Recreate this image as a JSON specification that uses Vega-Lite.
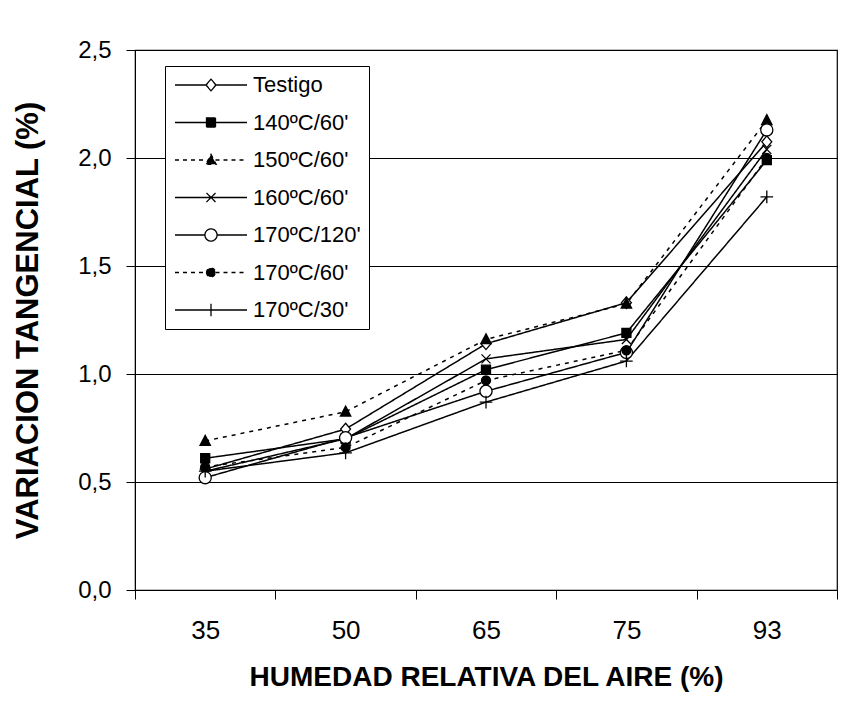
{
  "$schema": "https://vega.github.io/schema/vega-lite/v6.json",
  "width": 702,
  "height": 540,
  "autosize": {"type": "none"},
  "padding": {"left": 135, "top": 50, "right": 7, "bottom": 118},
  "background": "white",
  "config": {
    "font": "Liberation Sans",
    "view": {"stroke": "black", "strokeWidth": 1.2},
    "axis": {"labelColor": "black", "titleColor": "black", "domainColor": "black", "tickColor": "black"},
    "legend": {
      "orient": "none", "legendX": 30, "legendY": 16, "title": null,
      "strokeColor": "black", "fillColor": "white", "padding": 8,
      "symbolSize": 81, "symbolOffset": 27, "labelOffset": 31,
      "labelFontSize": 22, "labelColor": "black", "rowPadding": 15.5,
      "symbolStrokeWidth": 1.3, "symbolStrokeColor": "black", "symbolOpacity": 1
    }
  },
  "data": {
    "values": [
      {"h": "35", "s": "Testigo", "v": 0.56},
      {"h": "50", "s": "Testigo", "v": 0.745},
      {"h": "65", "s": "Testigo", "v": 1.14},
      {"h": "75", "s": "Testigo", "v": 1.33},
      {"h": "93", "s": "Testigo", "v": 2.075},
      {"h": "35", "s": "140ºC/60'", "v": 0.61},
      {"h": "50", "s": "140ºC/60'", "v": 0.70},
      {"h": "65", "s": "140ºC/60'", "v": 1.02},
      {"h": "75", "s": "140ºC/60'", "v": 1.19},
      {"h": "93", "s": "140ºC/60'", "v": 1.99},
      {"h": "35", "s": "150ºC/60'", "v": 0.69},
      {"h": "50", "s": "150ºC/60'", "v": 0.825},
      {"h": "65", "s": "150ºC/60'", "v": 1.16},
      {"h": "75", "s": "150ºC/60'", "v": 1.325},
      {"h": "93", "s": "150ºC/60'", "v": 2.175},
      {"h": "35", "s": "160ºC/60'", "v": 0.55},
      {"h": "50", "s": "160ºC/60'", "v": 0.70},
      {"h": "65", "s": "160ºC/60'", "v": 1.07},
      {"h": "75", "s": "160ºC/60'", "v": 1.16},
      {"h": "93", "s": "160ºC/60'", "v": 2.04},
      {"h": "35", "s": "170ºC/120'", "v": 0.52},
      {"h": "50", "s": "170ºC/120'", "v": 0.705},
      {"h": "65", "s": "170ºC/120'", "v": 0.92},
      {"h": "75", "s": "170ºC/120'", "v": 1.10},
      {"h": "93", "s": "170ºC/120'", "v": 2.13},
      {"h": "35", "s": "170ºC/60'", "v": 0.57},
      {"h": "50", "s": "170ºC/60'", "v": 0.66},
      {"h": "65", "s": "170ºC/60'", "v": 0.97},
      {"h": "75", "s": "170ºC/60'", "v": 1.11},
      {"h": "93", "s": "170ºC/60'", "v": 2.00},
      {"h": "35", "s": "170ºC/30'", "v": 0.55},
      {"h": "50", "s": "170ºC/30'", "v": 0.635},
      {"h": "65", "s": "170ºC/30'", "v": 0.87},
      {"h": "75", "s": "170ºC/30'", "v": 1.06},
      {"h": "93", "s": "170ºC/30'", "v": 1.82}
    ]
  },
  "encoding": {
    "x": {
      "field": "h", "type": "ordinal", "sort": ["35", "50", "65", "75", "93"],
      "scale": {"type": "band", "paddingInner": 0, "paddingOuter": 0},
      "axis": {
        "title": "HUMEDAD RELATIVA DEL AIRE (%)", "tickBand": "extent", "labelAngle": 0,
        "tickSize": 9, "labelPadding": 18, "labelFontSize": 26, "titleFontSize": 28,
        "titleFontWeight": "bold", "titlePadding": 20, "grid": false
      }
    },
    "y": {
      "field": "v", "type": "quantitative",
      "scale": {"domain": [0, 2.5], "nice": false, "zero": true},
      "axis": {
        "title": "VARIACION TANGENCIAL (%)", "values": [0, 0.5, 1, 1.5, 2, 2.5],
        "labelExpr": "replace(format(datum.value, '.1f'), '.', ',')",
        "tickSize": 9, "labelPadding": 15, "labelFontSize": 24, "titleFontSize": 31,
        "titleFontWeight": "bold", "titlePadding": 33, "grid": true, "gridColor": "black", "gridWidth": 1
      }
    }
  },
  "layer": [
    {
      "mark": {"type": "line", "color": "black", "strokeWidth": 1.5},
      "encoding": {
        "detail": {"field": "s"},
        "strokeDash": {
          "field": "s", "type": "nominal",
          "scale": {
            "domain": ["Testigo", "140ºC/60'", "150ºC/60'", "160ºC/60'", "170ºC/120'", "170ºC/60'", "170ºC/30'"],
            "range": [[1, 0], [1, 0], [4, 5], [1, 0], [1, 0], [4, 5], [1, 0]]
          },
          "legend": null
        }
      }
    },
    {
      "mark": {"type": "point", "size": 81, "stroke": "black", "strokeWidth": 1.3, "opacity": 1, "fillOpacity": 1, "strokeOpacity": 1},
      "encoding": {
        "fill": {
          "field": "s", "type": "nominal",
          "scale": {
            "domain": ["Testigo", "140ºC/60'", "150ºC/60'", "160ºC/60'", "170ºC/120'", "170ºC/60'", "170ºC/30'"],
            "range": ["white", "black", "black", "black", "white", "black", "black"]
          },
          "legend": null
        },
        "shape": {
          "field": "s", "type": "nominal",
          "scale": {
            "domain": ["Testigo", "140ºC/60'", "150ºC/60'", "160ºC/60'", "170ºC/120'", "170ºC/60'", "170ºC/30'"],
            "range": [
              "M0,-1.3L1.1,0L0,1.3L-1.1,0Z",
              "M-1,-1H1V1H-1Z",
              "M0,-1.25L1.15,0.95H-1.15Z",
              "M-1,-1L1,1M-1,1L1,-1",
              "M-1.35,0A1.35,1.35,0,1,0,1.35,0A1.35,1.35,0,1,0,-1.35,0Z",
              "M-1,0A1,1,0,1,0,1,0A1,1,0,1,0,-1,0Z",
              "M-1.4,0H1.4M0,-1.4V1.4"
            ]
          },
          "legend": null
        }
      }
    },
    {
      "transform": [{"filter": "false"}],
      "mark": {"type": "point", "size": 81, "stroke": "black", "strokeWidth": 1.3, "opacity": 1, "fillOpacity": 1, "strokeOpacity": 1},
      "encoding": {
        "fill": {
          "field": "s", "type": "nominal",
          "scale": {
            "domain": ["Testigo", "140ºC/60'", "150ºC/60'", "160ºC/60'", "170ºC/120'", "170ºC/60'", "170ºC/30'"],
            "range": ["white", "black", "black", "black", "white", "black", "black"]
          }
        },
        "stroke": {
          "field": "s", "type": "nominal",
          "scale": {
            "domain": ["Testigo", "140ºC/60'", "150ºC/60'", "160ºC/60'", "170ºC/120'", "170ºC/60'", "170ºC/30'"],
            "range": ["black", "black", "black", "black", "black", "black", "black"]
          }
        },
        "strokeDash": {
          "field": "s", "type": "nominal",
          "scale": {
            "domain": ["Testigo", "140ºC/60'", "150ºC/60'", "160ºC/60'", "170ºC/120'", "170ºC/60'", "170ºC/30'"],
            "range": [[1, 0], [1, 0], [4, 4], [1, 0], [1, 0], [4, 4], [1, 0]]
          }
        },
        "shape": {
          "field": "s", "type": "nominal",
          "scale": {
            "domain": ["Testigo", "140ºC/60'", "150ºC/60'", "160ºC/60'", "170ºC/120'", "170ºC/60'", "170ºC/30'"],
            "range": [
              "M-8,0H-1.1M1.1,0H8M0,-1.3L1.1,0L0,1.3L-1.1,0Z",
              "M-8,0H-1M1,0H8M-1,-1H1V1H-1Z",
              "M-8,0H-1M1,0H8M0,-1.25L1.15,0.95H-1.15Z",
              "M-8,0H8M-1,-1L1,1M-1,1L1,-1",
              "M-8,0H-1.35M1.35,0H8M-1.35,0A1.35,1.35,0,1,0,1.35,0A1.35,1.35,0,1,0,-1.35,0Z",
              "M-8,0H-1M1,0H8M-1,0A1,1,0,1,0,1,0A1,1,0,1,0,-1,0Z",
              "M-8,0H8M0,-1.4V1.4"
            ]
          }
        }
      }
    }
  ],
  "resolve": {"scale": {"shape": "independent", "fill": "independent", "stroke": "independent", "strokeDash": "independent"}}
}
